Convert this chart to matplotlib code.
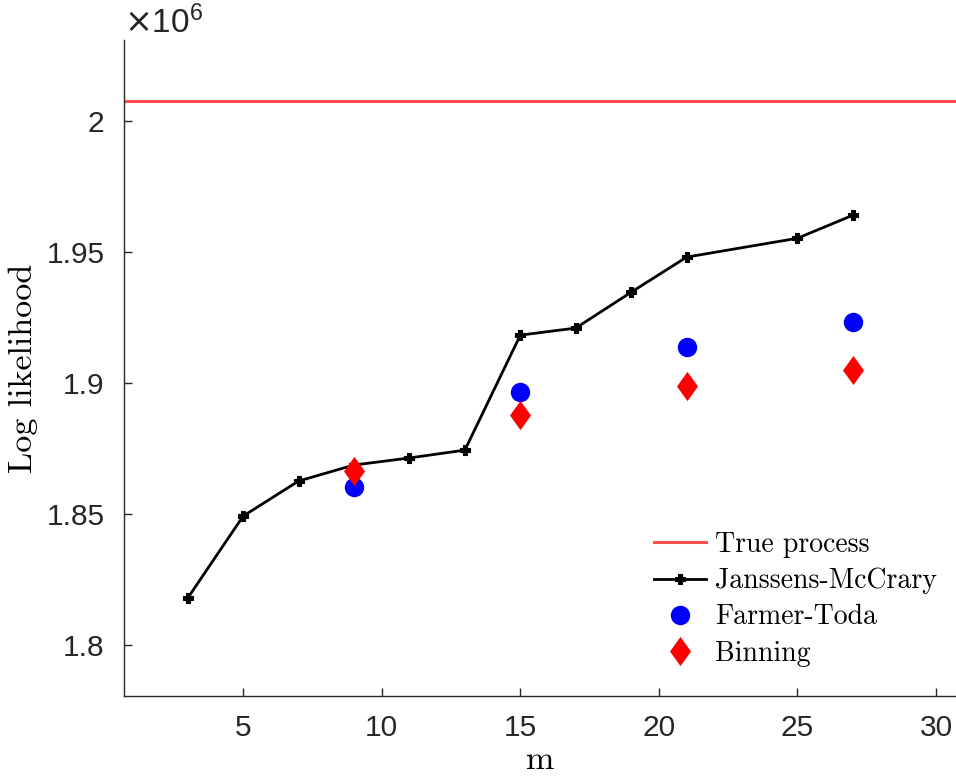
import matplotlib
matplotlib.use('Agg')
import matplotlib.pyplot as plt
from matplotlib.path import Path

# Log likelihood values, in units of 1e6
m_jm = [3, 5, 7, 9, 11, 13, 15, 17, 19, 21, 25, 27]
ll_jm = [1.8179, 1.8492, 1.8626, 1.8687, 1.8714, 1.8744, 1.9183, 1.9210,
         1.9347, 1.9481, 1.9553, 1.9641]
m_ft = [9, 15, 21, 27]
ll_ft = [1.8603, 1.8966, 1.9137, 1.9233]
m_bin = [9, 15, 21, 27]
ll_bin = [1.8664, 1.8878, 1.8989, 1.9050]
ll_true = 2.0076

xticks = [5, 10, 15, 20, 25, 30]
yticks = [1.8, 1.85, 1.9, 1.95, 2.0]

axcol = '#262626'
cm = 'cmr10'

fig = plt.figure(figsize=(9.56, 7.8), dpi=100)
ax = fig.add_axes([0.1297, 0.1077, 0.8703, 0.841])

ax.axhline(ll_true, color='#ff4d4d', lw=2.2, label='True process')
ax.plot(m_jm, ll_jm, color='k', lw=2.0, marker='P', ms=7, mew=0.8, mec='k',
        label='Janssens-McCrary')
ax.plot(m_ft, ll_ft, ls='none', marker='o', ms=14, color='#0000ff',
        mec='none', label='Farmer-Toda')
diamond = Path([(0, 1), (0.72, 0), (0, -1), (-0.72, 0), (0, 1)],
               [Path.MOVETO, Path.LINETO, Path.LINETO, Path.LINETO, Path.CLOSEPOLY])
ax.plot(m_bin, ll_bin, ls='none', marker=diamond, ms=21, color='#ff0000',
        mec='none', label='Binning')

ax.set_xlim(0.7, 30.72)
ax.set_ylim(1.7805, 2.031)
ax.set_xticks(xticks)
ax.set_xticklabels([f'{v:g}' for v in xticks])
ax.set_yticks(yticks)
ax.set_yticklabels([f'{v:g}' for v in yticks])

for s in ['top', 'right']:
    ax.spines[s].set_visible(False)
for s in ['left', 'bottom']:
    ax.spines[s].set_color(axcol)
    ax.spines[s].set_linewidth(1.0)
ax.tick_params(direction='in', length=6, width=1.0, color=axcol,
               labelcolor=axcol, labelsize=21.5)
ax.tick_params(axis='x', pad=13)
ax.tick_params(axis='y', pad=14)
for lab in ax.get_xticklabels() + ax.get_yticklabels():
    lab.set_family('Liberation Sans')

ax.set_xlabel('m', family=cm, fontsize=24.5, labelpad=3)
ax.set_ylabel('Log likelihood', family=cm, fontsize=24.5, labelpad=6)

ax.text(0.0, 1.0107, r'$\times\mathregular{10^{6}}$', transform=ax.transAxes,
        family='Liberation Sans', fontsize=24, color=axcol,
        ha='left', va='baseline')

leg = ax.legend(loc='lower right', bbox_to_anchor=(0.99, 0.028), frameon=False,
                prop={'family': cm, 'size': 20}, handlelength=1.9,
                handletextpad=0.3, labelspacing=0.35, borderaxespad=0)

fig.savefig('out.png', dpi=100)
